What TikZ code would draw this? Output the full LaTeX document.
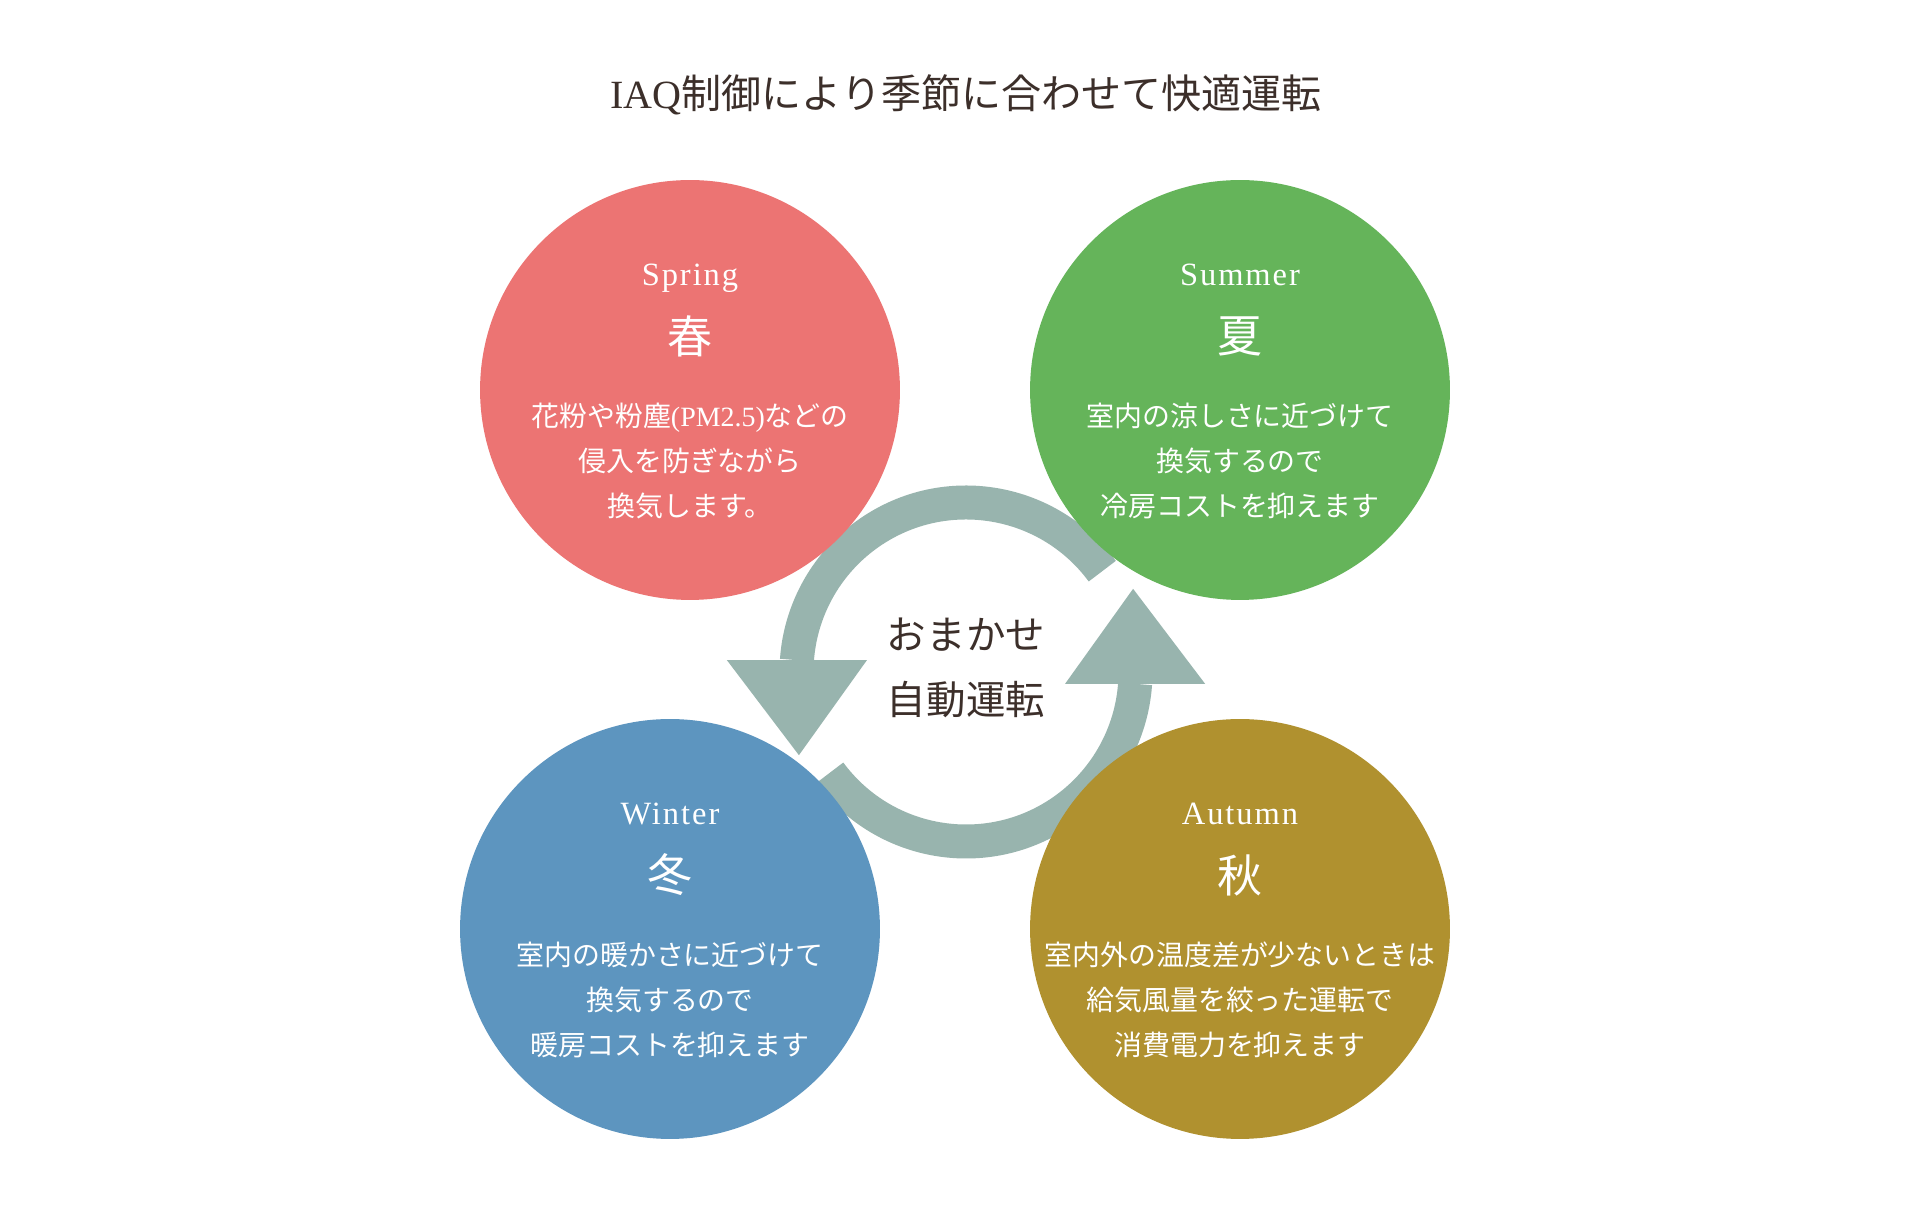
\documentclass[tikz,border=0pt]{standalone}
\usepackage{fontspec}
\setmainfont{Noto Sans CJK JP}
\newfontfamily\latin[LetterSpace=6]{Liberation Serif}
\newfontfamily\latinplain{Liberation Serif}
\usetikzlibrary{calc, positioning}
\definecolor{springc}{HTML}{EC7473}
\definecolor{summerc}{HTML}{65B45A}
\definecolor{winterc}{HTML}{5D95BF}
\definecolor{autumnc}{HTML}{B0912F}
\definecolor{ringc}{HTML}{98B4AE}
\definecolor{brownc}{HTML}{3C2F2A}
\tikzset{
    season/.style={circle, inner sep=0pt, minimum size=8.4cm, fill=#1},
    seasonen/.style={text=white, inner sep=0pt, text height=0.68em, text depth=0em, font=\latin\fontsize{18.5}{22}\selectfont},
    seasonjp/.style={text=white, inner sep=0pt, font=\fontsize{25.6}{30}\selectfont},
    seasontxt/.style={text=white, inner sep=0pt, align=center, font=\fontsize{15.9}{25.6}\selectfont},
    ringline/.style={draw=ringc, line width=0.68cm},
    titletxt/.style={text=brownc, inner sep=0pt, font=\fontsize{22.8}{27}\selectfont},
    centertxt/.style={text=brownc, inner sep=0pt, font=\fontsize{22.5}{27}\selectfont}
}
\begin{document}
\begin{tikzpicture}[x=0.02cm, y=0.02cm]
    \def \R {169.5}
    \fill[white] (0,0) rectangle (1930,1220);
    \useasboundingbox (0,0) rectangle (1930,1220);
    \node[titletxt] (title) at (966,1125) {{\latinplain IAQ}制御により季節に合わせて快適運転};
    \coordinate (ring) at (966,548);
    % circular arrows
    \foreach \a in {0,180}{
    \begin{scope}[shift={(ring)}, rotate=\a]
    \draw[ringline] (36.5:\R) arc (36.5:176:\R);
    \fill[ringc] (176:\R) +(-70,0) -- +(70,0) -- +(2,-95) -- cycle;
    \end{scope}}
    \node[season=springc] (spring) at (690,830) {};
    \node[season=summerc] (summer) at (1240,830) {};
    \node[season=winterc] (winter) at (670,291) {};
    \node[season=autumnc] (autumn) at (1240,291) {};
    \node[seasonen] (springen) at ($(spring)+(0,110)$) {Spring};
    \node[seasonjp] (springjp) at ($(spring)+(0,54)$) {春};
    \node[seasontxt] (springtxt) at ($(spring)+(0,-71)$) {花粉や粉塵{\latinplain (PM2.5)}などの\\侵入を防ぎながら\\換気します。};
    \node[seasonen] (summeren) at ($(summer)+(0,110)$) {Summer};
    \node[seasonjp] (summerjp) at ($(summer)+(0,54)$) {夏};
    \node[seasontxt] (summertxt) at ($(summer)+(0,-71)$) {室内の涼しさに近づけて\\換気するので\\冷房コストを抑えます};
    \node[seasonen] (winteren) at ($(winter)+(0,110)$) {Winter};
    \node[seasonjp] (winterjp) at ($(winter)+(0,54)$) {冬};
    \node[seasontxt] (wintertxt) at ($(winter)+(0,-71)$) {室内の暖かさに近づけて\\換気するので\\暖房コストを抑えます};
    \node[seasonen] (autumnen) at ($(autumn)+(0,110)$) {Autumn};
    \node[seasonjp] (autumnjp) at ($(autumn)+(0,54)$) {秋};
    \node[seasontxt] (autumntxt) at ($(autumn)+(0,-71)$) {室内外の温度差が少ないときは\\給気風量を絞った運転で\\消費電力を抑えます};
    \node[centertxt] (auto1) at ($(ring)+(0,37)$) {おまかせ};
    \node[centertxt] (auto2) at ($(ring)+(0,-28)$) {自動運転};
\end{tikzpicture}
\end{document}
